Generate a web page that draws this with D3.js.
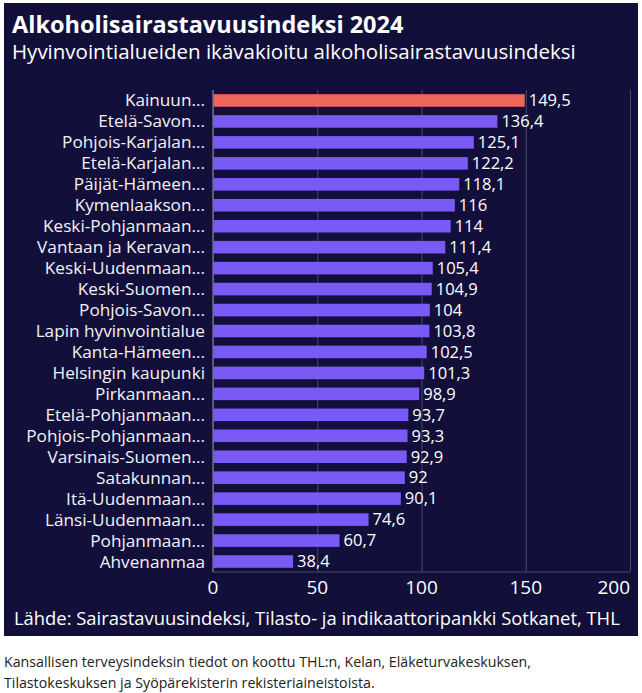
<!DOCTYPE html>
<html>
<head>
<meta charset="utf-8">
<script src="https://cdn.jsdelivr.net/npm/d3@7"></script>
<style>
  body { margin: 0; background: #fff; font-family: "Open Sans", sans-serif; }
  .grid line { stroke: #4a4868; }
  .grid path { display: none; }
</style>
</head>
<body>
<svg width="642" height="693"></svg>
<script>
// alkoholisairastavuusindeksi per hyvinvointialue
const regions = ["Kainuun...", "Etelä-Savon...", "Pohjois-Karjalan...", "Etelä-Karjalan...",
  "Päijät-Hämeen...", "Kymenlaakson...", "Keski-Pohjanmaan...", "Vantaan ja Keravan...",
  "Keski-Uudenmaan...", "Keski-Suomen...", "Pohjois-Savon...", "Lapin hyvinvointialue",
  "Kanta-Hämeen...", "Helsingin kaupunki", "Pirkanmaan...", "Etelä-Pohjanmaan...",
  "Pohjois-Pohjanmaan...", "Varsinais-Suomen...", "Satakunnan...", "Itä-Uudenmaan...",
  "Länsi-Uudenmaan...", "Pohjanmaan...", "Ahvenanmaa"];
const values = [149.5, 136.4, 125.1, 122.2, 118.1, 116, 114, 111.4, 105.4, 104.9, 104,
  103.8, 102.5, 101.3, 98.9, 93.7, 93.3, 92.9, 92, 90.1, 74.6, 60.7, 38.4];
const xTicks = [0, 50, 100, 150, 200];
const highlight = "Kainuun...";

const data = regions.map((r, i) => ({ region: r, value: values[i] }));
const fmt = v => String(v).replace(".", ",");

const svg = d3.select("svg");

// dark panel
svg.append("rect")
  .attr("x", 4).attr("y", 3)
  .attr("width", 634).attr("height", 633)
  .attr("fill", "#130f3b");

svg.append("text")
  .attr("x", 12).attr("y", 33)
  .attr("fill", "#fff")
  .style("font-size", "23.5px").style("font-weight", 700)
  .text("Alkoholisairastavuusindeksi 2024");

svg.append("text")
  .attr("x", 12).attr("y", 59)
  .attr("fill", "#fff")
  .style("font-size", "20.5px").style("font-weight", 400)
  .text("Hyvinvointialueiden ikävakioitu alkoholisairastavuusindeksi");

const x = d3.scaleLinear().domain([0, 200]).range([213, 630]);
const y = d3.scaleBand().domain(regions).range([90, 572])
  .paddingInner(0.4).paddingOuter(0.2);

// gridlines
svg.append("g")
  .attr("class", "grid")
  .attr("transform", "translate(0,90)")
  .call(d3.axisBottom(x).tickValues(xTicks).tickSize(572 - 90).tickFormat(""));

// bottom frame
svg.append("line")
  .attr("x1", x(0)).attr("x2", x(200))
  .attr("y1", 572).attr("y2", 572)
  .attr("stroke", "#4a4868");

svg.append("g")
  .selectAll("rect")
  .data(data)
  .enter()
  .append("rect")
  .attr("x", x(0))
  .attr("y", d => y(d.region))
  .attr("width", d => x(d.value) - x(0))
  .attr("height", y.bandwidth())
  .attr("fill", d => d.region === highlight ? "#f0655a" : "#7a5af5");

// left axis line
svg.append("line")
  .attr("x1", x(0)).attr("x2", x(0))
  .attr("y1", 90).attr("y2", 572)
  .attr("stroke", "#6b6985").attr("stroke-width", 1.5);

// category labels
svg.append("g")
  .selectAll("text")
  .data(data)
  .enter()
  .append("text")
  .attr("x", 205)
  .attr("y", d => y(d.region) + y.bandwidth() / 2)
  .attr("dy", "0.35em")
  .attr("text-anchor", "end")
  .attr("fill", "#f2f2f6")
  .style("font-size", "17.2px").style("font-weight", 500)
  .text(d => d.region);

// value labels
svg.append("g")
  .selectAll("text")
  .data(data)
  .enter()
  .append("text")
  .attr("x", d => x(d.value) + 4)
  .attr("y", d => y(d.region) + y.bandwidth() / 2)
  .attr("dy", "0.35em")
  .attr("fill", "#fff")
  .style("font-size", "16.5px").style("font-weight", 500)
  .text(d => fmt(d.value));

// x tick labels (last one kept inside the frame)
svg.append("g")
  .selectAll("text")
  .data(xTicks)
  .enter()
  .append("text")
  .attr("x", d => x(d))
  .attr("y", 594)
  .attr("text-anchor", (d, i) => i === xTicks.length - 1 ? "end" : "middle")
  .attr("fill", "#fff")
  .style("font-size", "19px").style("font-weight", 500)
  .text(d => d);

svg.append("text")
  .attr("x", 14).attr("y", 625)
  .attr("fill", "#fff")
  .style("font-size", "18.4px")
  .text("Lähde: Sairastavuusindeksi, Tilasto- ja indikaattoripankki Sotkanet, THL");

// footnote below panel
const notes = ["Kansallisen terveysindeksin tiedot on koottu THL:n, Kelan, Eläketurvakeskuksen,",
  "Tilastokeskuksen ja Syöpärekisterin rekisteriaineistoista."];
svg.append("g")
  .selectAll("text")
  .data(notes)
  .enter()
  .append("text")
  .attr("x", 4)
  .attr("y", (d, i) => 667 + i * 21)
  .attr("fill", "#222")
  .style("font-size", "14.2px")
  .text(d => d);
</script>
</body>
</html>
